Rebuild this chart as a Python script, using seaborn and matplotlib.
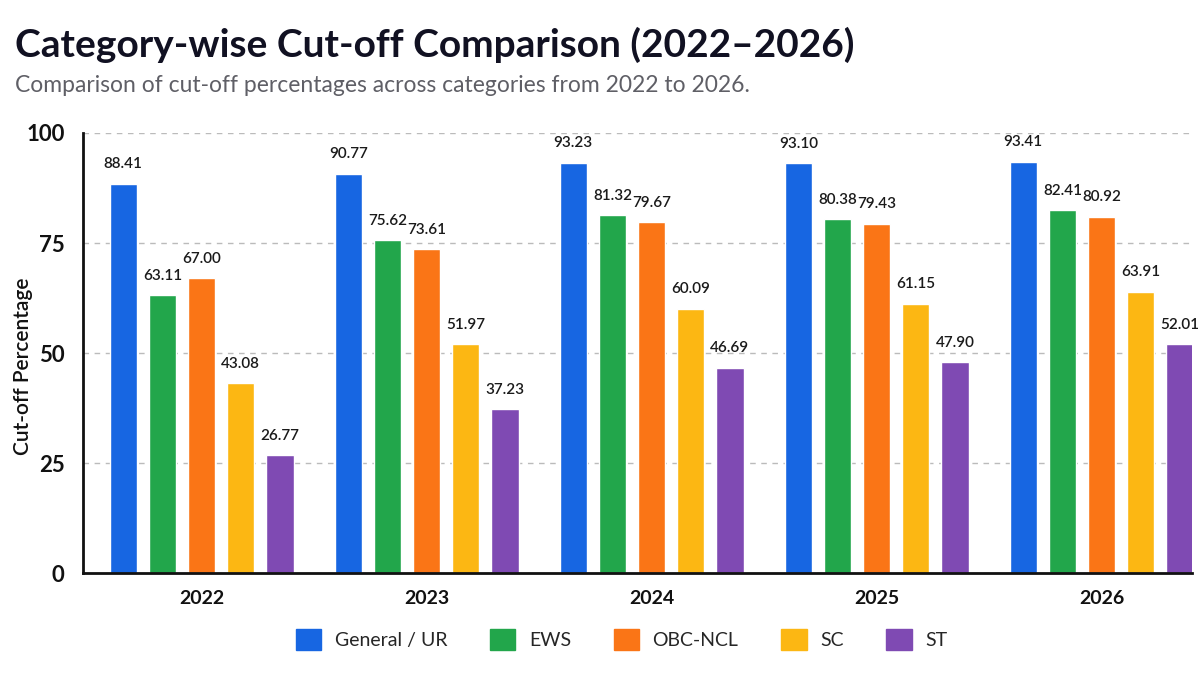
import numpy as np
import pandas as pd
import matplotlib
matplotlib.use("Agg")
import matplotlib.pyplot as plt
import seaborn as sns

years = ["2022", "2023", "2024", "2025", "2026"]
categories = ["General / UR", "EWS", "OBC-NCL", "SC", "ST"]
general_ur = [88.41, 90.77, 93.23, 93.10, 93.41]
ews = [63.11, 75.62, 81.32, 80.38, 82.41]
obc_ncl = [67.00, 73.61, 79.67, 79.43, 80.92]
sc = [43.08, 51.97, 60.09, 61.15, 63.91]
st = [26.77, 37.23, 46.69, 47.90, 52.01]
colors = ["#1766E2", "#22A64B", "#FA7516", "#FCB713", "#7F4AB3"]

series = [general_ur, ews, obc_ncl, sc, st]
rows = []
for cat, vals in zip(categories, series):
    for yr, v in zip(years, vals):
        rows.append({"Year": yr, "Category": cat, "Cutoff": v})
df = pd.DataFrame(rows)

sns.set_theme(style="white")
plt.rcParams["font.family"] = ["Lato", "DejaVu Sans"]

fig = plt.figure(figsize=(12, 6.75), dpi=100, facecolor="white")
ax = fig.add_axes([0.069, 0.151, 0.924, 0.652])

sns.barplot(data=df, x="Year", y="Cutoff", hue="Category", order=years,
            hue_order=categories, palette=colors, width=0.87, gap=0.30,
            saturation=1, errorbar=None, legend=False, ax=ax)

# value labels above bars
for container in ax.containers:
    ax.bar_label(container, fmt="%.2f", padding=9, fontsize=11,
                 fontweight="semibold", color="#1a1a1a")

ax.set_ylim(0, 100)
ax.set_xlim(-0.528, 4.40)
ax.set_yticks([0, 25, 50, 75, 100])
ax.yaxis.grid(True, linestyle=(0, (4, 4)), color="#bbbbbb", linewidth=1)
ax.set_axisbelow(True)
ax.tick_params(axis="y", length=0, pad=13)
ax.tick_params(axis="x", length=0, pad=12)
for lbl in ax.get_yticklabels():
    lbl.set_fontsize(16)
    lbl.set_fontweight("bold")
    lbl.set_color("#111111")
for lbl in ax.get_xticklabels():
    lbl.set_fontsize(14)
    lbl.set_fontweight("bold")
    lbl.set_color("#111111")
ax.set_xlabel("")
ax.set_ylabel("Cut-off Percentage", fontsize=15, fontweight="semibold",
              color="#111111")
ax.yaxis.set_label_coords(-0.045, 0.47)
for side in ["top", "right"]:
    ax.spines[side].set_visible(False)
for side in ["left", "bottom"]:
    ax.spines[side].set_color("#111111")
    ax.spines[side].set_linewidth(2)

fig.text(0.0125, 0.933, "Category-wise Cut-off Comparison (2022\u20132026)",
         fontsize=28, fontweight="bold", color="#111122", va="center")
fig.text(0.0125, 0.874, "Comparison of cut-off percentages across categories from 2022 to 2026.",
         fontsize=16.5, color="#5f5f66", va="center")

handles = [plt.Rectangle((0, 0), 1, 1, color=c) for c in colors]
fig.legend(handles, categories, loc="center", bbox_to_anchor=(0.518, 0.052),
           ncol=5, frameon=False, fontsize=14, handlelength=1.3,
           handleheight=1.3, handletextpad=0.7, columnspacing=2.2)

fig.savefig("out.png", dpi=100, facecolor="white")
